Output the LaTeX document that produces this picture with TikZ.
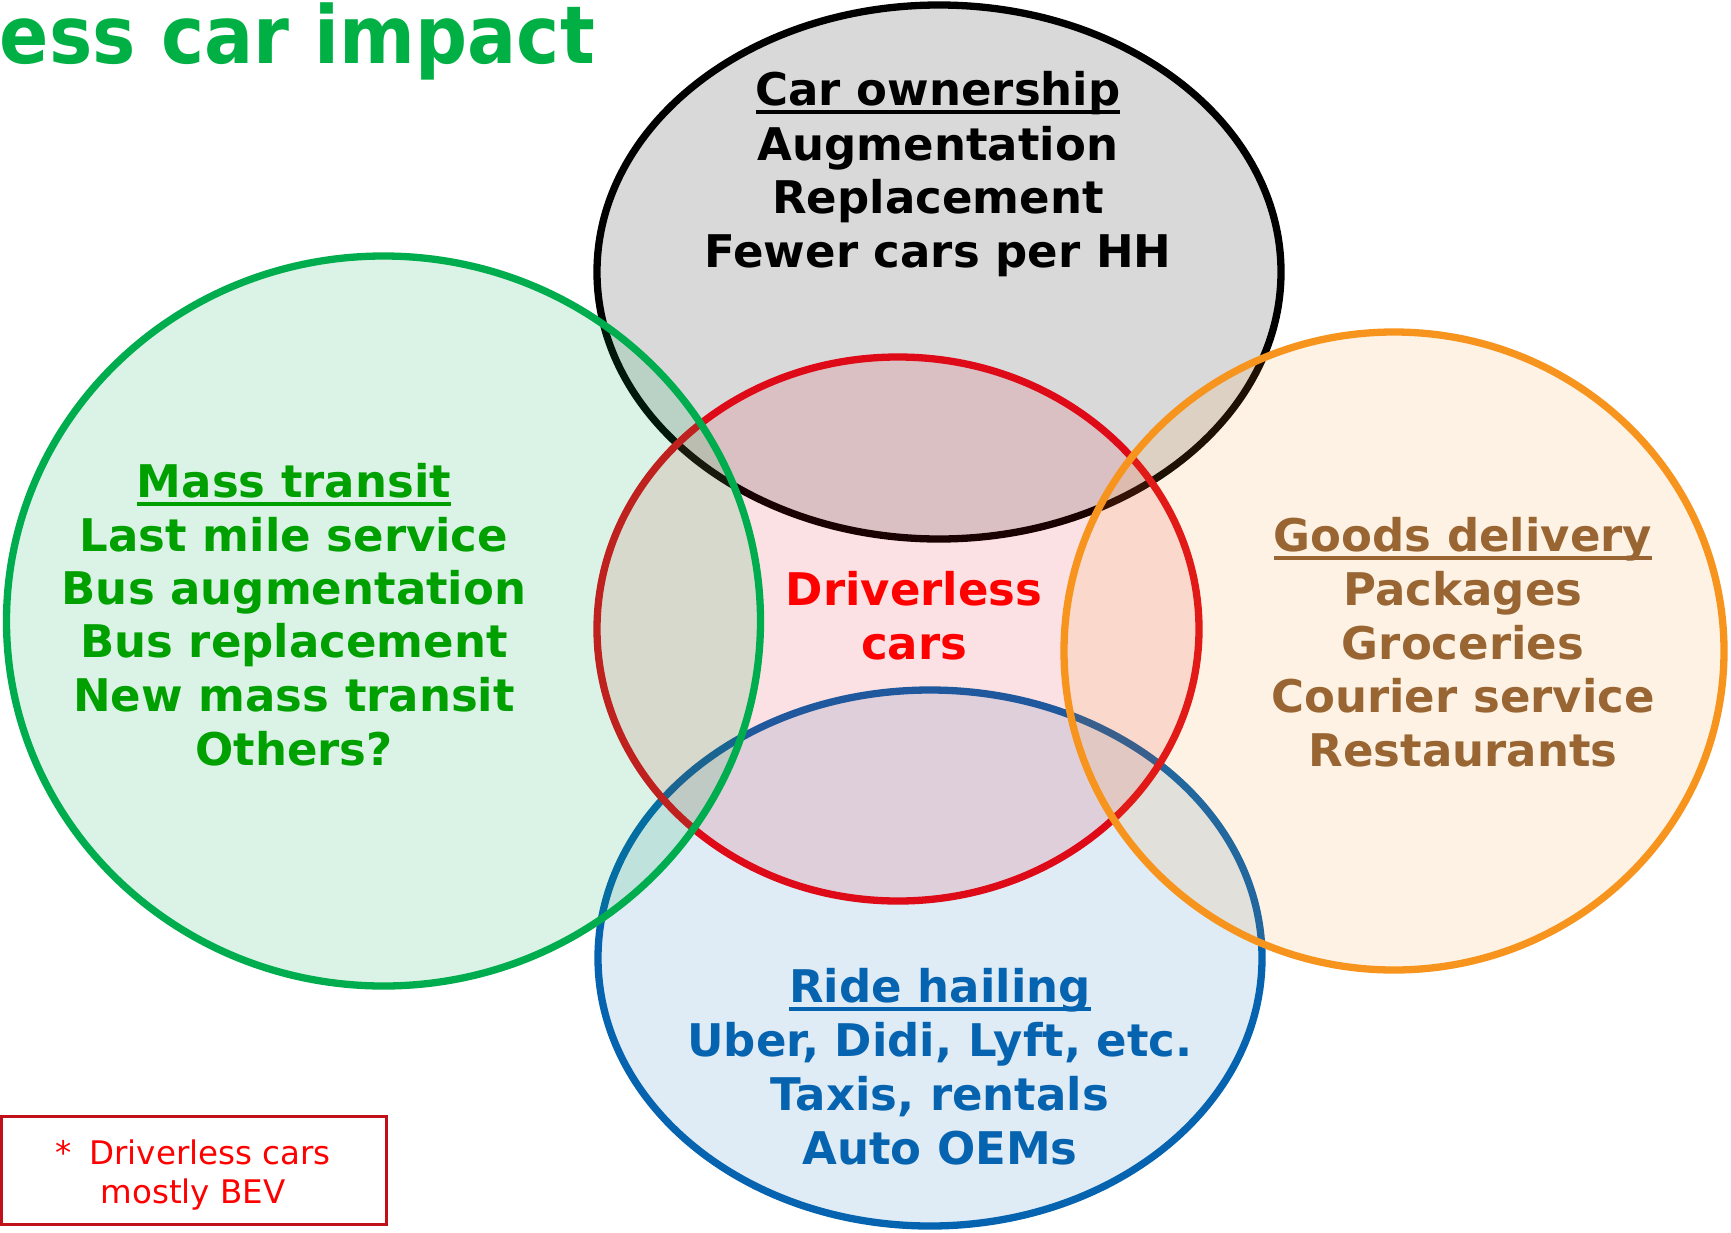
\documentclass[tikz,border=0pt]{standalone}
\usepackage{fontspec}
\setmainfont{DejaVu Sans}
\usetikzlibrary{shapes.geometric}

\definecolor{titlegreen}{HTML}{00B045}
\definecolor{transitline}{HTML}{00AD4E}
\definecolor{transittext}{HTML}{00A000}
\definecolor{coreline}{HTML}{DE0A17}
\definecolor{coretext}{HTML}{FF0000}
\definecolor{goodsline}{HTML}{F7941D}
\definecolor{goodstext}{HTML}{996633}
\definecolor{rideblue}{HTML}{0563B0}
\definecolor{noteframe}{HTML}{C0101A}

% underline drawn at a fixed depth below the baseline
\newsavebox\ulsave
\newcommand\ulined[1]{\sbox\ulsave{#1}\rlap{\rule[-0.19em]{\wd\ulsave}{0.085em}}\usebox\ulsave}

\tikzset{
  venn/.style={ellipse, inner sep=0pt, line width=7.3pt, draw=#1, fill=#1},
  lbl/.style={anchor=base, inner sep=0pt, font=\bfseries\fontsize{45}{54}\selectfont},
  notetext/.style={anchor=base, inner sep=0pt, text=coretext, font=\fontsize{32.5}{38}\selectfont},
}

\begin{document}
\begin{tikzpicture}[x=1pt, y=-1pt]
\useasboundingbox (0,0) rectangle (1731,1232);
\clip (0,0) rectangle (1731,1232);

% title, running off the left edge
\node[anchor=base east, inner sep=0pt, text=titlegreen,
      font=\bfseries\fontsize{80}{90}\selectfont] (title) at (595,63) {\scalebox{0.91}[1]{ess car impact}};

% the five overlapping sets
\node[venn=black, fill opacity=0.15, minimum width=684, minimum height=534] (own) at (939,272) {};
\node[venn=rideblue, fill opacity=0.13, minimum width=664, minimum height=536] (ride) at (930,958) {};
\node[venn=coreline, fill opacity=0.12, minimum width=602, minimum height=544] (core) at (898,629) {};
\node[venn=transitline, fill opacity=0.14, minimum width=754, minimum height=730] (transit) at (383.5,621) {};
\node[venn=goodsline, fill opacity=0.12, minimum width=660, minimum height=638] (goods) at (1394,651) {};

% car ownership
\node[lbl] (own1) at (938,105) {\ulined{Car ownership}};
\node[lbl] (own2) at (938,160) {Augmentation};
\node[lbl] (own3) at (938,213) {Replacement};
\node[lbl] (own4) at (938,267) {Fewer cars per HH};

% mass transit
\node[lbl, text=transittext] (tr1) at (294,497) {\ulined{Mass transit}};
\node[lbl, text=transittext] (tr2) at (294,551) {Last mile service};
\node[lbl, text=transittext] (tr3) at (294,604) {Bus augmentation};
\node[lbl, text=transittext] (tr4) at (294,657) {Bus replacement};
\node[lbl, text=transittext] (tr5) at (294,711) {New mass transit};
\node[lbl, text=transittext] (tr6) at (294,765) {Others?};

% centre
\node[lbl, text=coretext] (core1) at (914,605) {Driverless};
\node[lbl, text=coretext] (core2) at (914,659) {cars};

% goods delivery
\node[lbl, text=goodstext] (gd1) at (1463,551) {\ulined{Goods delivery}};
\node[lbl, text=goodstext] (gd2) at (1463,605) {Packages};
\node[lbl, text=goodstext] (gd3) at (1463,659) {Groceries};
\node[lbl, text=goodstext] (gd4) at (1463,712) {Courier service};
\node[lbl, text=goodstext] (gd5) at (1463,766) {Restaurants};

% ride hailing
\node[lbl, text=rideblue] (rh1) at (940,1002) {\ulined{Ride hailing}};
\node[lbl, text=rideblue] (rh2) at (940,1056) {Uber, Didi, Lyft, etc.};
\node[lbl, text=rideblue] (rh3) at (940,1110) {Taxis, rentals};
\node[lbl, text=rideblue] (rh4) at (940,1164) {Auto OEMs};

% footnote
\node[draw=noteframe, line width=2.4pt, inner sep=0pt, minimum width=385, minimum height=108] (note) at (194,1170.5) {};
\node[notetext] (note1) at (193,1164) {*\hspace{0.55em}Driverless cars};
\node[notetext] (note2) at (193,1203) {mostly BEV};
\end{tikzpicture}
\end{document}
